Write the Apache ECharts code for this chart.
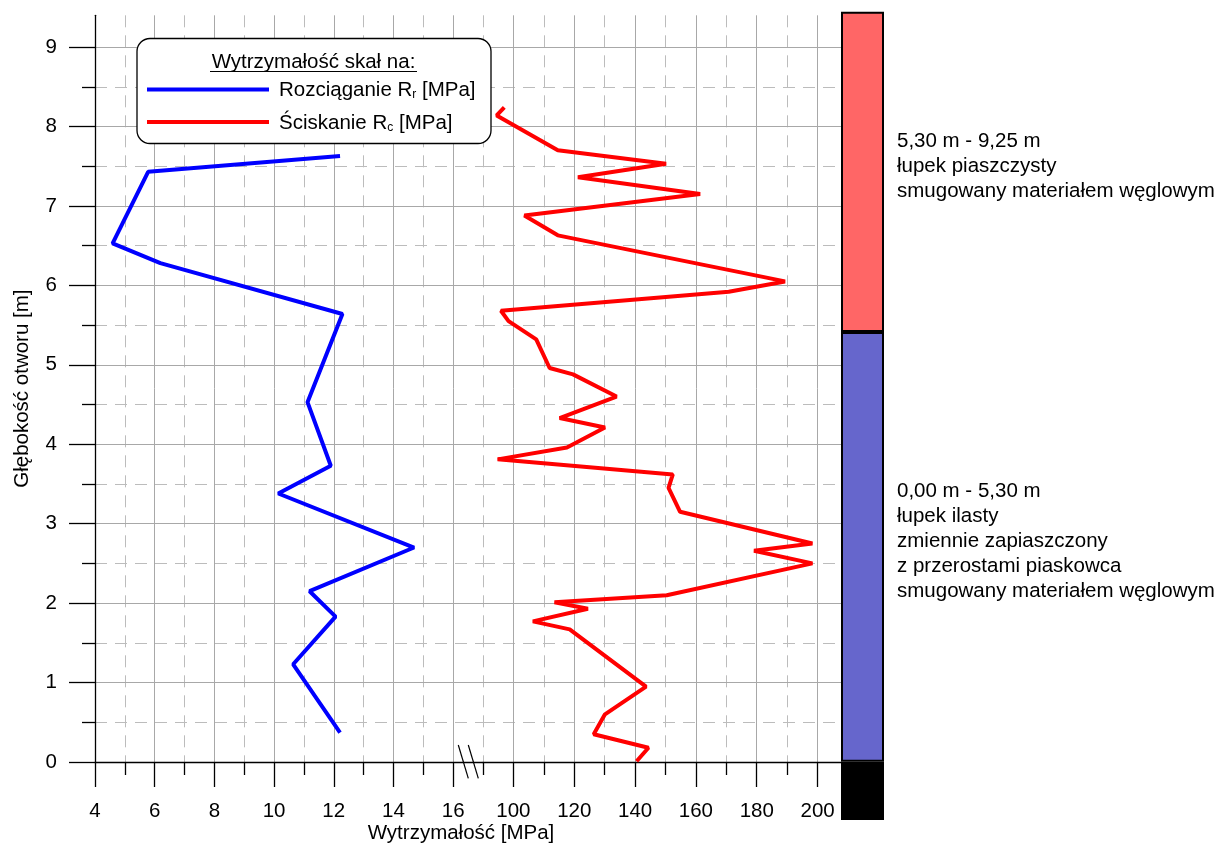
<!DOCTYPE html>
<html>
<head>
<meta charset="utf-8">
<script src="https://cdn.jsdelivr.net/npm/echarts@6/dist/echarts.min.js"></script>
<style>
  html, body { margin: 0; padding: 0; background: #fff; }
  #chart { width: 1232px; height: 846px; }
</style>
</head>
<body>
<div id="chart"></div>
<script>
// Axis ticks (major = solid grid, half = dashed grid)
const depthTicks = [0, 1, 2, 3, 4, 5, 6, 7, 8, 9];
const depthHalfTicks = [0.5, 1.5, 2.5, 3.5, 4.5, 5.5, 6.5, 7.5, 8.5];
const tensionTicks = [4, 6, 8, 10, 12, 14, 16];
const tensionHalfTicks = [5, 7, 9, 11, 13, 15];
const compressionTicks = [100, 120, 140, 160, 180, 200];
const compressionHalfTicks = [90, 110, 130, 150, 170, 190];

// Tensile strength R_r [MPa] versus depth [m]
const tensionDepth = [7.63, 7.43, 6.53, 6.28, 5.64, 4.53, 3.73, 3.38, 2.70, 2.15, 1.83, 1.23, 0.37];
const tensionValue = [12.21, 5.78, 4.59, 6.19, 12.29, 11.12, 11.90, 10.14, 14.69, 11.19, 12.06, 10.64, 12.21];

// Compressive strength R_c [MPa] versus depth [m]
const compressionDepth = [8.24, 8.14, 7.70, 7.53, 7.36, 7.15, 6.88, 6.63, 6.05, 5.92,
  5.68, 5.55, 5.32, 4.96, 4.88, 4.60, 4.33, 4.21, 3.96, 3.81,
  3.62, 3.45, 3.15, 2.75, 2.66, 2.50, 2.10, 2.01, 1.93, 1.77,
  1.67, 0.95, 0.60, 0.35, 0.18, 0.01];
const compressionValue = [97.0, 94.5, 114.6, 150.2, 121.2, 161.4, 103.6, 114.6, 189.3, 170.8,
  95.9, 98.4, 107.5, 111.9, 119.6, 133.9, 115.2, 130.1, 117.6, 94.8,
  152.4, 151.0, 154.8, 198.3, 179.1, 198.3, 150.4, 113.5, 124.5, 106.4,
  118.5, 143.6, 130.1, 126.4, 144.4, 140.5];

// Lithological column
const layerBottom = [0.00, 5.30];
const layerTop = [5.30, 9.25];
const layerColors = ['#6666cc', '#ff6666'];
const layerTexts = [
  '0,00 m - 5,30 m\nłupek ilasty\nzmiennie zapiaszczony\nz przerostami piaskowca\nsmugowany materiałem węglowym',
  '5,30 m - 9,25 m\nłupek piaszczysty\nsmugowany materiałem węglowym'
];
const columnBase = -0.72;

const FONT = '"Liberation Sans", Arial, sans-serif';
const FS = 20.5;
const GRID_SOLID = '#a8a8a8';
const GRID_DASH = '#bcbcbc';

function xAxisPair(gridIndex, min, max, major, half, showLine) {
  return [
    {
      type: 'value', gridIndex, min, max, position: 'bottom', z: 2,
      axisLine: { show: showLine, onZero: false, lineStyle: { color: '#000', width: 1.3 } },
      axisTick: { show: true, customValues: major, length: 25, lineStyle: { color: '#000', width: 1.3 } },
      axisLabel: { show: true, customValues: major, margin: 39, color: '#000', fontSize: FS, fontFamily: FONT },
      splitLine: { show: true, showMinLine: gridIndex !== 0, lineStyle: { color: GRID_SOLID, width: 1 } }
    },
    {
      type: 'value', gridIndex, min, max, position: 'bottom', z: 1,
      axisLine: { show: false },
      axisTick: { show: true, customValues: half, length: 13, lineStyle: { color: '#000', width: 1.3 } },
      axisLabel: { show: false },
      splitLine: { show: true, lineStyle: { color: GRID_DASH, width: 1, type: [12, 8] } }
    }
  ];
}

function yAxisPair(gridIndex, visible) {
  return [
    {
      type: 'value', gridIndex, min: 0, max: 9.4, position: 'left', z: 2,
      name: visible ? 'Głębokość otworu [m]' : '',
      nameLocation: 'middle', nameGap: 62,
      nameTextStyle: { color: '#000', fontSize: FS, fontFamily: FONT },
      axisLine: { show: visible, onZero: false, lineStyle: { color: '#000', width: 1.3 } },
      axisTick: { show: visible, customValues: depthTicks, length: 26, lineStyle: { color: '#000', width: 1.3 } },
      axisLabel: { show: visible, customValues: depthTicks, margin: 38, color: '#000', fontSize: FS, fontFamily: FONT },
      splitLine: { show: true, showMinLine: false, lineStyle: { color: GRID_SOLID, width: 1 } }
    },
    {
      type: 'value', gridIndex, min: 0, max: 9.4, position: 'left', z: 1,
      axisLine: { show: false },
      axisTick: { show: visible, customValues: depthHalfTicks, length: 13, lineStyle: { color: '#000', width: 1.3 } },
      axisLabel: { show: false },
      splitLine: { show: true, lineStyle: { color: GRID_DASH, width: 1, type: [12, 8] } }
    }
  ];
}

const chart = echarts.init(document.getElementById('chart'), null, { renderer: 'canvas' });

const option = {
  backgroundColor: '#fff',
  animation: false,
  textStyle: { fontFamily: FONT },
  grid: [
    { left: 95, top: 15.3, width: 388, height: 746.7 },   // tensile scale
    { left: 483, top: 15.3, width: 358, height: 746.7 },  // compressive scale
    { left: 841, top: 11.7, width: 43, height: 808.3 }    // lithological column
  ],
  xAxis: [
    ...xAxisPair(0, 4, 17, tensionTicks, tensionHalfTicks, true),
    ...xAxisPair(1, 90, 207.7, compressionTicks, compressionHalfTicks, true),
    { type: 'category', gridIndex: 2, data: ['profil'], show: false }
  ],
  yAxis: [
    ...yAxisPair(0, true),
    ...yAxisPair(1, false),
    { type: 'value', gridIndex: 2, min: columnBase, max: layerTop[1], show: false }
  ],
  legend: {
    orient: 'vertical', left: 147, top: 80, padding: 0,
    itemWidth: 122, itemHeight: 4, itemGap: 11.5,
    icon: 'path://M0,0H122V4H0Z',
    selectedMode: false,
    data: ['Rozciąganie', 'Ściskanie'],
    formatter: name => name === 'Rozciąganie'
      ? '{sp|}{t|Rozciąganie R}{s|r}{t| [MPa]}'
      : '{sp|}{t|Ściskanie R}{s|c}{t| [MPa]}',
    textStyle: {
      rich: {
        sp: { width: 5 },
        t: { fontSize: FS, fontFamily: FONT, color: '#000', lineHeight: 23, verticalAlign: 'bottom' },
        s: { fontSize: 12, fontFamily: FONT, color: '#000', lineHeight: 6, verticalAlign: 'bottom' }
      }
    }
  },
  graphic: [
    {
      type: 'rect', z: 3,
      shape: { x: 137, y: 38.5, width: 354, height: 105, r: 13 },
      style: { fill: '#fff', stroke: '#000', lineWidth: 1.3 }
    },
    {
      type: 'text', z: 4, x: 313.5, y: 62,
      style: { text: 'Wytrzymałość skał na:', fill: '#000', font: `${FS}px ${FONT}`, textAlign: 'center', textVerticalAlign: 'middle' }
    },
    {
      type: 'line', z: 4,
      shape: { x1: 210, y1: 71.5, x2: 417, y2: 71.5 },
      style: { stroke: '#000', lineWidth: 1.2 }
    },
    {
      type: 'line', z: 5,
      shape: { x1: 458.3, y1: 745, x2: 468.3, y2: 778.3 },
      style: { stroke: '#000', lineWidth: 1.2 }
    },
    {
      type: 'line', z: 5,
      shape: { x1: 468.3, y1: 745, x2: 478.3, y2: 778.3 },
      style: { stroke: '#000', lineWidth: 1.2 }
    },
    {
      type: 'text', z: 4, x: 461, y: 833,
      style: { text: 'Wytrzymałość [MPa]', fill: '#000', font: `${FS}px ${FONT}`, textAlign: 'center', textVerticalAlign: 'middle' }
    }
  ],
  series: [
    {
      name: 'Rozciąganie', type: 'line', xAxisIndex: 0, yAxisIndex: 0, z: 4,
      showSymbol: false, symbol: 'none',
      lineStyle: { color: '#0000ff', width: 4 },
      itemStyle: { color: '#0000ff' },
      data: tensionValue.map((v, i) => [v, tensionDepth[i]])
    },
    {
      name: 'Ściskanie', type: 'line', xAxisIndex: 2, yAxisIndex: 2, z: 4,
      showSymbol: false, symbol: 'none',
      lineStyle: { color: '#ff0000', width: 4 },
      itemStyle: { color: '#ff0000' },
      data: compressionValue.map((v, i) => [v, compressionDepth[i]])
    },
    {
      type: 'bar', xAxisIndex: 4, yAxisIndex: 4, stack: 'profil', barWidth: '100%',
      itemStyle: { color: '#000', borderColor: '#000', borderWidth: 2 },
      data: [columnBase]
    },
    ...layerTop.map((top, i) => ({
      type: 'bar', xAxisIndex: 4, yAxisIndex: 4, stack: 'profil', barWidth: '100%',
      itemStyle: { color: layerColors[i], borderColor: '#000', borderWidth: 2 },
      label: {
        show: true, position: 'right', distance: 13, offset: [0, -5],
        formatter: () => layerTexts[i],
        color: '#000', fontSize: FS, fontFamily: FONT, lineHeight: 25, align: 'left'
      },
      data: [+(top - layerBottom[i]).toFixed(2)]
    }))
  ]
};

chart.setOption(option);
</script>
</body>
</html>
